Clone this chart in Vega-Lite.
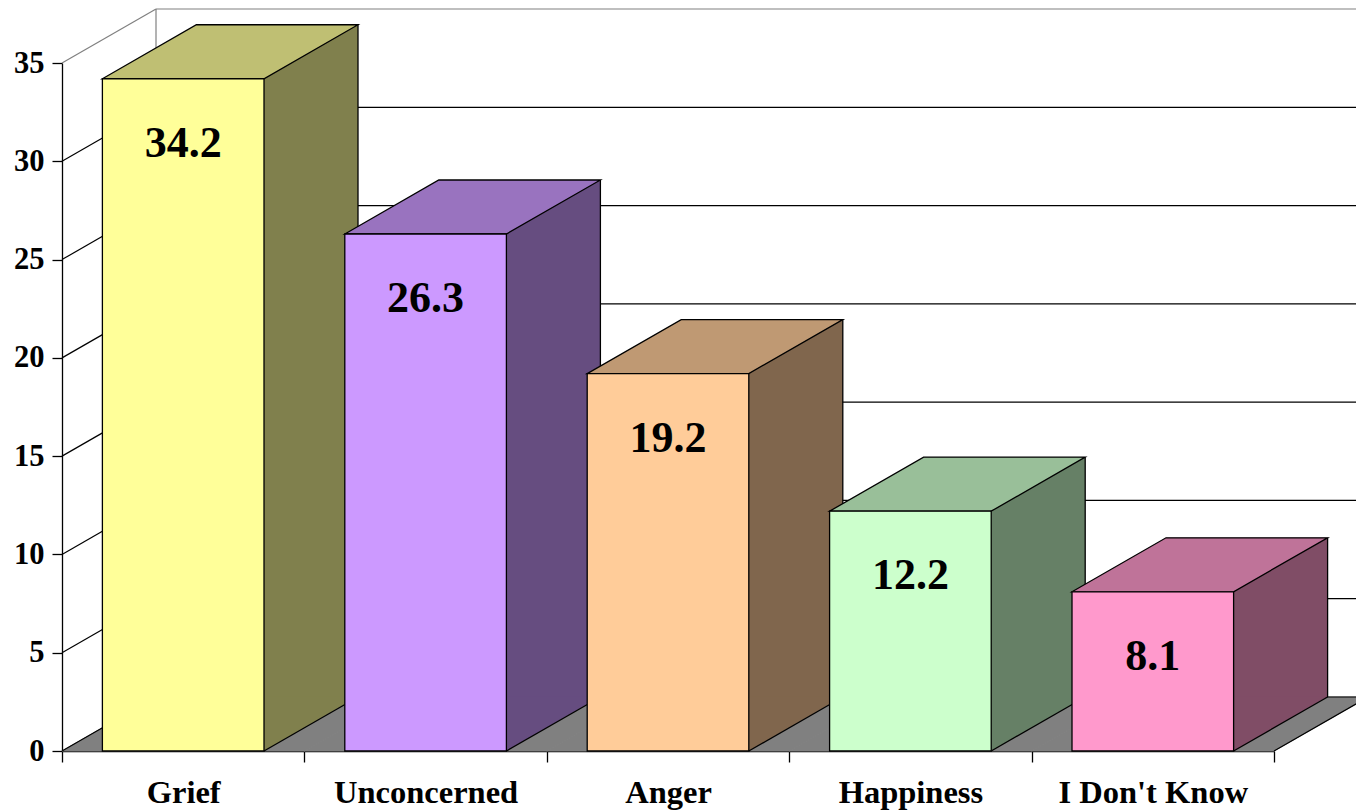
{
  "$schema": "https://vega.github.io/schema/vega-lite/v6.json",
  "width": 1212,
  "height": 688,
  "autosize": {"type": "none"},
  "padding": {"left": 62, "top": 63, "right": 82, "bottom": 59},
  "background": "white",
  "config": {
    "view": {"stroke": null},
    "axisX": {"domainColor": "#000000", "tickColor": "#000000", "tickBand": "extent", "tickSize": 11, "domainWidth": 1.3, "tickWidth": 1.3, "labelFont": "Liberation Serif", "labelFontWeight": "bold", "labelFontSize": 32.5, "labelColor": "#000000", "labelBaseline": "alphabetic", "labelPadding": 40, "labelAngle": 0, "labelLimit": 0, "zindex": 1, "grid": false},
    "axisY": {"domainColor": "#000000", "tickColor": "#000000", "tickSize": 10, "domainWidth": 1.3, "tickWidth": 1.3, "labelFont": "Liberation Serif", "labelFontWeight": "bold", "labelFontSize": 30.5, "labelColor": "#000000", "labelPadding": 8, "labelFlush": false, "tickCount": 7, "zindex": 1, "grid": false}
  },
  "datasets": {
    "bars": [
      {"cat": "Grief", "value": 34.2},
      {"cat": "Unconcerned", "value": 26.3},
      {"cat": "Anger", "value": 19.2},
      {"cat": "Happiness", "value": 12.2},
      {"cat": "I Don't Know", "value": 8.1}
    ],
    "ticks": [{"v": 0}, {"v": 5}, {"v": 10}, {"v": 15}, {"v": 20}, {"v": 25}, {"v": 30}, {"v": 35}]
  },
  "resolve": {"scale": {"fill": "independent"}},
  "layer": [
    {
      "data": {"name": "bars"},
      "mark": {"type": "point", "shape": "M-121.2,0L121.2,0L215.2,-54L-27.2,-54Z", "size": 4, "filled": true, "opacity": 1, "fill": "#808080", "stroke": "#808080", "strokeWidth": 1},
      "encoding": {
        "x": {"field": "cat", "type": "nominal", "title": null, "scale": {"type": "band", "domain": ["Grief", "Unconcerned", "Anger", "Happiness", "I Don't Know"], "paddingInner": 0, "paddingOuter": 0}},
        "y": {"datum": 0, "type": "quantitative", "title": null, "scale": {"domain": [0, 35], "nice": false}}
      }
    },
    {
      "data": {"name": "ticks"},
      "mark": {"type": "rule", "xOffset": -27.2, "x2Offset": 215.2, "yOffset": -54, "strokeWidth": 1.2},
      "encoding": {
        "x": {"datum": "Grief", "type": "nominal", "title": null},
        "x2": {"datum": "I Don't Know"},
        "y": {"field": "v", "type": "quantitative", "title": null},
        "stroke": {"condition": {"test": "datum.v === 35", "value": "#808080"}, "value": "#000000"}
      }
    },
    {
      "data": {"name": "ticks"},
      "mark": {"type": "rule", "xOffset": -121.2, "x2Offset": -27.2, "y2Offset": -54, "strokeWidth": 1.2},
      "encoding": {
        "x": {"datum": "Grief", "type": "nominal", "title": null},
        "x2": {"datum": "Grief"},
        "y": {"field": "v", "type": "quantitative", "title": null},
        "y2": {"field": "v"},
        "stroke": {"condition": {"test": "datum.v === 35", "value": "#808080"}, "value": "#000000"}
      }
    },
    {
      "data": {"name": "ticks"},
      "transform": [{"filter": "datum.v === 35"}],
      "mark": {"type": "rule", "xOffset": -27.2, "yOffset": -54, "y2Offset": -54, "stroke": "#808080", "strokeWidth": 1.2},
      "encoding": {
        "x": {"datum": "Grief", "type": "nominal", "title": null},
        "y": {"field": "v", "type": "quantitative", "title": null},
        "y2": {"datum": 0}
      }
    },
    {
      "data": {"name": "bars"},
      "transform": [{"filter": "datum.cat === \"I Don't Know\""}],
      "mark": {"type": "rule", "xOffset": 121.2, "x2Offset": 215.2, "y2Offset": -54, "stroke": "#000000", "strokeWidth": 1.3},
      "encoding": {
        "x": {"field": "cat", "type": "nominal", "title": null},
        "x2": {"field": "cat"},
        "y": {"datum": 0, "type": "quantitative", "title": null},
        "y2": {"datum": 0}
      }
    },
    {
      "data": {"name": "bars"},
      "mark": {"type": "bar", "width": {"band": 0.6667}, "xOffset": 94, "x2Offset": 94, "yOffset": -54, "y2Offset": -54, "strokeWidth": 0},
      "encoding": {
        "x": {"field": "cat", "type": "nominal", "title": null},
        "y": {"field": "value", "type": "quantitative", "title": null},
        "y2": {"datum": 0},
        "fill": {"field": "cat", "type": "nominal", "legend": null, "scale": {"domain": ["Grief", "Unconcerned", "Anger", "Happiness", "I Don't Know"], "range": ["#80804D", "#664D80", "#80664D", "#668066", "#804D66"]}}
      }
    },
    {
      "data": {"name": "bars"},
      "mark": {"type": "point", "shape": "M80.8,-54.5L80.8,0L174.8,-54.5Z", "size": 4, "filled": true, "opacity": 1, "strokeWidth": 0},
      "encoding": {
        "x": {"field": "cat", "type": "nominal", "title": null},
        "y": {"datum": 0, "type": "quantitative", "title": null},
        "fill": {"field": "cat", "type": "nominal", "legend": null, "scale": {"domain": ["Grief", "Unconcerned", "Anger", "Happiness", "I Don't Know"], "range": ["#80804D", "#664D80", "#80664D", "#668066", "#804D66"]}}
      }
    },
    {
      "data": {"name": "bars"},
      "mark": {"type": "rule", "xOffset": 80.8, "x2Offset": 174.8, "y2Offset": -54, "stroke": "#000000", "strokeWidth": 1.3},
      "encoding": {
        "x": {"field": "cat", "type": "nominal", "title": null},
        "x2": {"field": "cat"},
        "y": {"datum": 0, "type": "quantitative", "title": null},
        "y2": {"datum": 0}
      }
    },
    {
      "data": {"name": "bars"},
      "mark": {"type": "rule", "xOffset": 174.8, "yOffset": -54, "y2Offset": -54, "stroke": "#000000", "strokeWidth": 1.3},
      "encoding": {
        "x": {"field": "cat", "type": "nominal", "title": null},
        "y": {"field": "value", "type": "quantitative", "title": null},
        "y2": {"datum": 0}
      }
    },
    {
      "data": {"name": "bars"},
      "mark": {"type": "point", "shape": "M-80.8,0L80.8,0L174.8,-54L13.2,-54Z", "size": 4, "filled": true, "opacity": 1, "stroke": "#000000", "strokeWidth": 1.3},
      "encoding": {
        "x": {"field": "cat", "type": "nominal", "title": null},
        "y": {"field": "value", "type": "quantitative", "title": null},
        "fill": {"field": "cat", "type": "nominal", "legend": null, "scale": {"domain": ["Grief", "Unconcerned", "Anger", "Happiness", "I Don't Know"], "range": ["#BFBF73", "#9973BF", "#BF9973", "#99BF99", "#BF7399"]}}
      }
    },
    {
      "data": {"name": "bars"},
      "mark": {"type": "bar", "width": {"band": 0.6667}, "stroke": "#000000", "strokeWidth": 1.3},
      "encoding": {
        "x": {"field": "cat", "type": "nominal", "title": null},
        "y": {"field": "value", "type": "quantitative", "title": null},
        "y2": {"datum": 0},
        "fill": {"field": "cat", "type": "nominal", "legend": null, "scale": {"domain": ["Grief", "Unconcerned", "Anger", "Happiness", "I Don't Know"], "range": ["#FFFF99", "#CC99FF", "#FFCC99", "#CCFFCC", "#FF99CC"]}}
      }
    },
    {
      "data": {"name": "bars"},
      "mark": {"type": "text", "font": "Liberation Serif", "fontWeight": "bold", "fontSize": 44, "baseline": "alphabetic", "dy": 78, "fill": "#000000"},
      "encoding": {
        "x": {"field": "cat", "type": "nominal", "title": null},
        "y": {"field": "value", "type": "quantitative", "title": null},
        "text": {"field": "value", "type": "quantitative", "format": ".1f"}
      }
    }
  ]
}
